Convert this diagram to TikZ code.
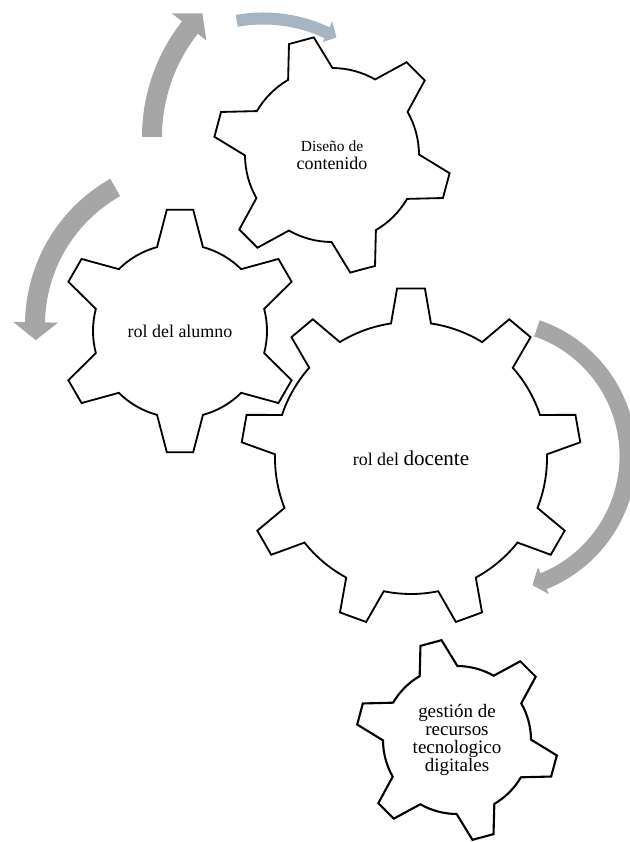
\documentclass[tikz,border=0pt]{standalone}
\usepackage{fontspec}
\setmainfont{Liberation Serif}
\definecolor{arrowgray}{RGB}{166,166,166}
\definecolor{arrowblue}{RGB}{167,180,194}
\tikzset{
	gearline/.style={draw=black, line width=1.3pt, line join=miter},
	gtext/.style={align=center, inner sep=0pt, text=black},
}
% #1 teeth, #2 first tooth angle, #3 root radius, #4 tip radius, #5 half angle at root, #6 half angle at tip
\newcommand{\gearwheel}[7][]{%
	\draw[gearline,#1] ({#3-#6}:#4)
	\foreach \k in {1,...,#2} {
		-- ({#3+(\k-1)*360/#2-#7}:#5) -- ({#3+(\k-1)*360/#2+#7}:#5)
		-- ({#3+(\k-1)*360/#2+#6}:#4)
		arc[start angle={#3+(\k-1)*360/#2+#6}, end angle={#3+\k*360/#2-#6}, radius=#4]
	} -- cycle;}
% #1 colour, #2 radius, #3 width, #4 start angle, #5 head angle, #6 tip angle, #7/#8 outer/inner wing
\newcommand{\circarrow}[8]{%
	\fill[#1] ({#4}:{#2+#3/2}) arc[start angle=#4, end angle=#5, radius={#2+#3/2}]
	-- ({#5}:#7) -- ({#6}:#2) -- ({#5}:#8) -- ({#5}:{#2-#3/2})
	arc[start angle=#5, end angle=#4, radius={#2-#3/2}] -- cycle;}

\begin{document}
\begin{tikzpicture}[x=0.025cm, y=0.025cm, line cap=round, line join=round]
	\useasboundingbox (0,0) rectangle (630,842);
	% centres of the wheels
	\coordinate (cDis) at (332,687);
	\coordinate (cAlu) at (180,511);
	\coordinate (cDoc) at (411,384);
	\coordinate (cGes) at (457,102);
	
	% turning arrows
	\begin{scope}[shift={(329,705)}]
		\circarrow{arrowgray}{177}{20}{180}{141.8}{135.7}{200}{156}
	\end{scope}
	\begin{scope}[shift={(263,672)}]
		\circarrow{arrowblue}{151.5}{12}{100}{65}{61}{164}{141}
	\end{scope}
	\begin{scope}[shift={(193,517)}]
		\circarrow{arrowgray}{158}{20}{119.5}{179}{185.5}{180}{135}
	\end{scope}
	\begin{scope}[shift={(493,386)}]
		\circarrow{arrowgray}{135}{17}{71}{-68}{-73}{149}{120}
	\end{scope}
	
	% wheels
	\begin{scope}[shift={(cDis)}]
		\gearwheel{6}{-15}{87}{119}{15.3}{6.2}
	\end{scope}
	\begin{scope}[shift={(cAlu)}]
		\gearwheel{6}{90}{87}{122}{15.3}{6.2}
	\end{scope}
	\begin{scope}[shift={(cDoc)}]
		\gearwheel{9}{90}{136}{170}{8.45}{4.7}
	\end{scope}
	\begin{scope}[shift={(cGes)}]
		\gearwheel[line width=1.5pt]{6}{-15}{74}{101}{15.3}{6.2}
	\end{scope}
	
	% labels
	\node[gtext, font=\fontsize{11}{12.3}\selectfont] (disenio) at (cDis)
		{Diseño de\\[0.5pt]{\fontsize{12.75}{12.3}\selectfont contenido}};
	\node[gtext, font=\fontsize{12.75}{14}\selectfont] (alumno) at (cAlu) {rol del alumno};
	\node[gtext, font=\fontsize{12.75}{14}\selectfont] (docente) at (cDoc)
		{rol del {\fontsize{15}{16}\selectfont docente}};
	\node[gtext, font=\fontsize{13.5}{12.75}\selectfont] (gestion) at (cGes)
		{gestión de\\recursos\\tecnologico\\digitales};
\end{tikzpicture}
\end{document}
